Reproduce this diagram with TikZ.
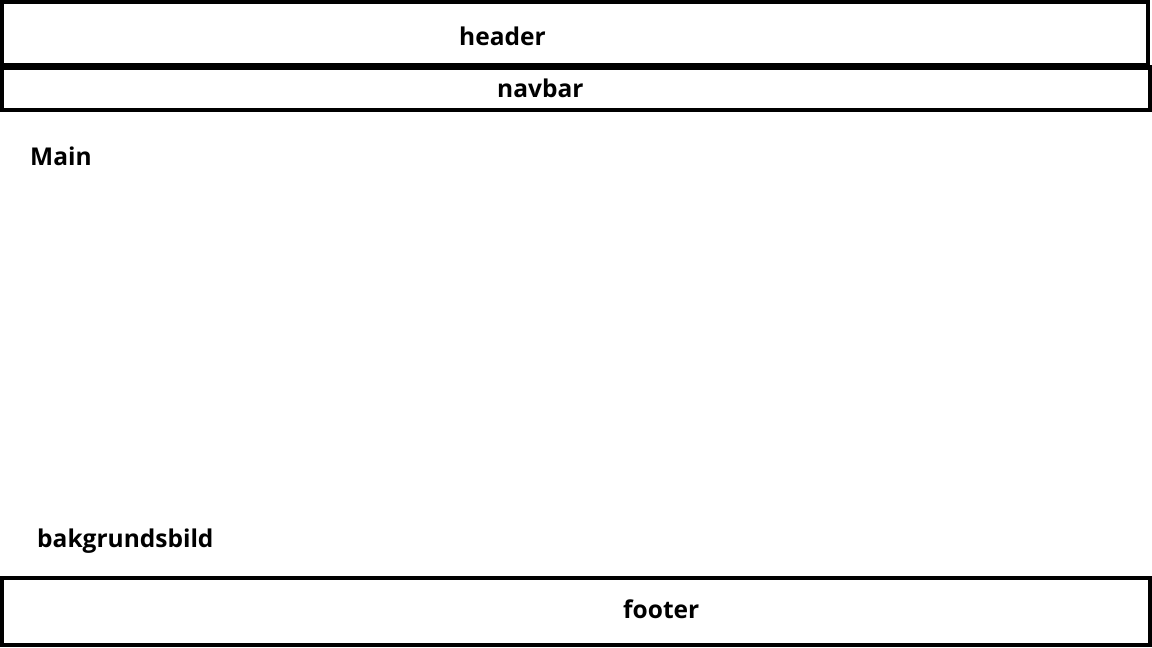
\documentclass[tikz,border=0pt]{standalone}
\usepackage{fontspec}
\setmainfont{Open Sans}
\begin{document}
\begin{tikzpicture}[x=1pt,y=-1pt,
  box/.style={draw=black, line width=4.5pt, fill=white, inner sep=0pt, outer sep=0pt, anchor=north west},
  lbl/.style={font=\fontsize{24.5}{29}\selectfont\bfseries, inner sep=0pt, anchor=base west, text=black}]
\useasboundingbox[fill=white] (0,0) rectangle (1152,648);
\node[box, minimum width=1146pt, minimum height=63.5pt] (header) at (2,2) {};
\node[box, minimum width=1148.5pt, minimum height=42.5pt] (navbar) at (2,67.5) {};
\node[box, minimum width=1149pt, minimum height=67pt] (footer) at (1.5,578) {};
\node[lbl] (headertxt) at (459,45) {header};
\node[lbl] (navbartxt) at (497,97) {navbar};
\node[lbl] (maintxt) at (30,165) {Main};
\node[lbl] (bildtxt) at (37,547) {bakgrundsbild};
\node[lbl] (footertxt) at (623,618) {footer};
\end{tikzpicture}
\end{document}
